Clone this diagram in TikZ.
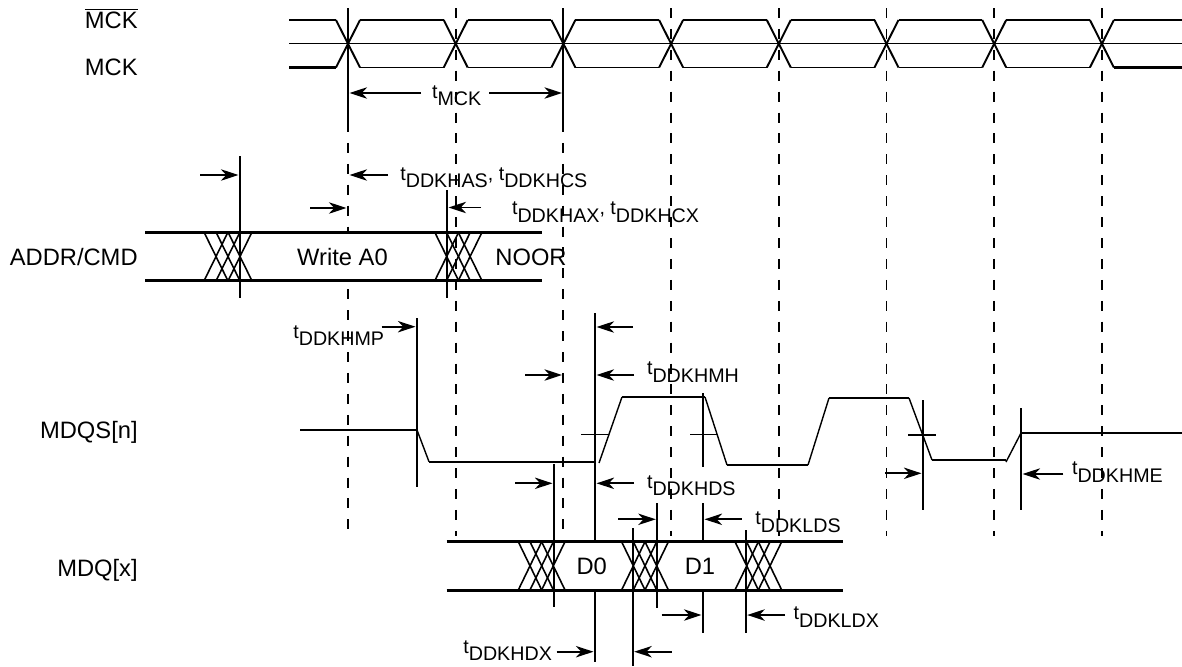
\documentclass[tikz,border=0pt]{standalone}
\usepackage{fontspec}
\setmainfont{Liberation Sans}
\usetikzlibrary{arrows.meta}
\newcommand{\tsub}[1]{t\raisebox{-4.5pt}{#1}}

\begin{document}
\begin{tikzpicture}[x=0.2mm, y=-0.2mm,
    sig/.style={line width=1.1pt},
    slope/.style={line width=0.8pt},
    bus/.style={line width=1.7pt},
    xline/.style={line width=0.9pt},
    refline/.style={line width=1.1pt},
    gridline/.style={line width=1.1pt, dash pattern=on 5.7pt off 6.2pt},
    tarrow/.style={-{Stealth[length=10pt,width=6.5pt,inset=3pt]}, line width=1.1pt},
    signame/.style={anchor=base east, inner sep=0pt, font=\fontsize{13.5}{16}\selectfont},
    busval/.style={anchor=base, inner sep=0pt, font=\fontsize{13.5}{16}\selectfont},
    tlabel/.style={anchor=base west, inner sep=0pt, font=\fontsize{11.2}{13}\selectfont}
]
\useasboundingbox (0,0) rectangle (1182,666);

% signal names
\node[signame] (mckn) at (138,28.5)  {$\overline{\hbox{MCK}}$};
\node[signame] (mck)  at (138,75)    {MCK};
\node[signame] (addr) at (138,265)   {ADDR/CMD};
\node[signame] (mdqs) at (138,438.5) {MDQS[n]};
\node[signame] (mdq)  at (138,576)   {MDQ[x]};

% clock edges
\draw[gridline] (455.7,8) -- (455.7,536);
\foreach \x in {671,778.8,886.5,994,1101.9}
  \draw[gridline] (\x,8) -- (\x,536);
\foreach \x in {348,563.4} {
  \draw[refline] (\x,8) -- (\x,122);
  \draw[gridline] (\x,122) -- (\x,536);
}

% MCK / MCK bar
\draw[sig] (289,43.5) -- (1182,43.5);
\draw[sig] (289,20) -- (336,20);
\draw[bus] (289,67.5) -- (336,67.5);
\foreach \k in {0,...,7} {
  \pgfmathsetmacro\cx{348+107.7*\k}
  \draw[sig] (\cx-12,20) -- (\cx+12,67.5);
  \draw[sig] (\cx-12,67.5) -- (\cx+12,20);
}
\foreach \k in {0,...,6} {
  \pgfmathsetmacro\cx{348+107.7*\k}
  \draw[sig] (\cx+12,20) -- (\cx+95.7,20);
  \draw[sig] (\cx+12,67.5) -- (\cx+95.7,67.5);
}
\draw[sig] (1113.9,20) -- (1182,20);
\draw[bus] (1113.9,67.5) -- (1182,67.5);

\draw[tarrow] (421,93) -- (349.5,93);
\draw[tarrow] (489,93) -- (562,93);
\node[tlabel] (tmck) at (431.7,98) {\tsub{MCK}};

% ADDR/CMD
\draw[refline] (240,156) -- (240,298);
\draw[refline] (446.7,190) -- (446.7,298);
\fill[white] (240,256.5) -- (252,232.7) -- (435,232.7) -- (446.7,256.5)
  -- (435,280.3) -- (252,280.3) -- cycle;
\foreach \cx in {216,228,240,446.7,458.4,470.1} {
  \draw[xline] (\cx-11.7,232.7) -- (\cx+11.7,280.3);
  \draw[xline] (\cx-11.7,280.3) -- (\cx+11.7,232.7);
}
\draw[bus] (145,232.7) -- (541.7,232.7);
\draw[bus] (145,280.3) -- (541.7,280.3);
\node[busval] (wa0)  at (342.5,265) {Write A0};
\node[busval] (noor) at (531,265)   {NOOR};

\draw[tarrow] (200,175) -- (238.5,175);
\draw[tarrow] (388,175) -- (349.5,175);
\node[tlabel] (thas) at (400,180) {\tsub{DDKHAS}, \tsub{DDKHCS}};
\draw[tarrow] (310,208) -- (346.5,208);
\draw[tarrow] (481,207.5) -- (448.5,207.5);
\node[tlabel] (thax) at (511.7,214.7) {\tsub{DDKHAX}, \tsub{DDKHCX}};

% MDQS[n]
\draw[refline] (417,318) -- (417,487);
\draw[refline] (595,313) -- (595,662);
\draw[refline] (554,464) -- (554,607);
\draw[refline] (703,393) -- (703,467);
\draw[refline] (703,503) -- (703,633);
\draw[refline] (657.3,503) -- (657.3,608);
\draw[refline] (632.7,528) -- (632.7,666);
\draw[refline] (745.7,530) -- (745.7,633);
\draw[refline] (923,400) -- (923,510);
\draw[refline] (1021,408) -- (1021,510);

\draw[sig] (300,430) -- (417,430);
\draw[sig] (429,461.7) -- (595,461.7);
\draw[sig] (622,397) -- (705,397);
\draw[sig] (727,465) -- (808,465);
\draw[sig] (829,398) -- (909,398);
\draw[sig] (932,460) -- (1006,460);
\draw[sig] (1021,433) -- (1182,433);
\draw[slope] (417,430) -- (429,461.7);
\draw[slope] (599,463) -- (622,397);
\draw[slope] (705,397) -- (727,465);
\draw[slope] (808,465) -- (829,398);
\draw[slope] (909,398) -- (932,460);
\draw[slope] (1006,462) -- (1021,433);
\draw[sig] (581,434.5) -- (609,434.5);
\draw[sig] (690,434.5) -- (716.7,434.5);
\draw[sig] (908,435) -- (936,435);

\draw[tarrow] (381.7,326.7) -- (415.5,326.7);
\node[tlabel] (thmp) at (293,338) {\tsub{DDKHMP}};
\draw[tarrow] (633,327) -- (596.5,327);
\draw[tarrow] (525,375) -- (562,375);
\draw[tarrow] (634,375) -- (596.5,375);
\node[tlabel] (thmh) at (646.7,374.7) {\tsub{DDKHMH}};
\draw[tarrow] (515,483.3) -- (552.5,483.3);
\draw[tarrow] (634,483.3) -- (596.5,483.3);
\node[tlabel] (thds) at (646.7,488) {\tsub{DDKHDS}};
\draw[tarrow] (885,473.3) -- (921.5,473.3);
\draw[tarrow] (1063.3,474) -- (1022.5,474);
\node[tlabel] (thme) at (1071.7,474.7) {\tsub{DDKHME}};

% MDQ[x]
\fill[white] (553.3,565.9) -- (565,541.7) -- (621.6,541.7) -- (633.3,565.9)
  -- (621.6,590) -- (565,590) -- cycle;
\fill[white] (656.7,565.9) -- (668.4,541.7) -- (735,541.7) -- (746.7,565.9)
  -- (735,590) -- (668.4,590) -- cycle;
\foreach \cx in {530,541.7,553.3,633.3,645,656.7,746.7,758.3,770} {
  \draw[xline] (\cx-11.7,541.7) -- (\cx+11.7,590);
  \draw[xline] (\cx-11.7,590) -- (\cx+11.7,541.7);
}
\draw[bus] (446.7,541.7) -- (843.3,541.7);
\draw[bus] (446.7,590) -- (843.3,590);
\node[busval] (d0) at (591.7,574.5) {D0};
\node[busval] (d1) at (700,574.5)   {D1};

\draw[tarrow] (618.3,519.3) -- (655.8,519.3);
\draw[tarrow] (741.7,519.3) -- (704.5,519.3);
\node[tlabel] (tlds) at (755,524.7) {\tsub{DDKLDS}};
\draw[tarrow] (661.7,615) -- (701.5,615);
\draw[tarrow] (785,615) -- (747.2,615);
\node[tlabel] (tldx) at (793.3,619.7) {\tsub{DDKLDX}};
\draw[tarrow] (556.7,651.7) -- (593.5,651.7);
\draw[tarrow] (671.7,651.7) -- (634.2,651.7);
\node[tlabel] (thdx) at (463,653) {\tsub{DDKHDX}};
\end{tikzpicture}
\end{document}
